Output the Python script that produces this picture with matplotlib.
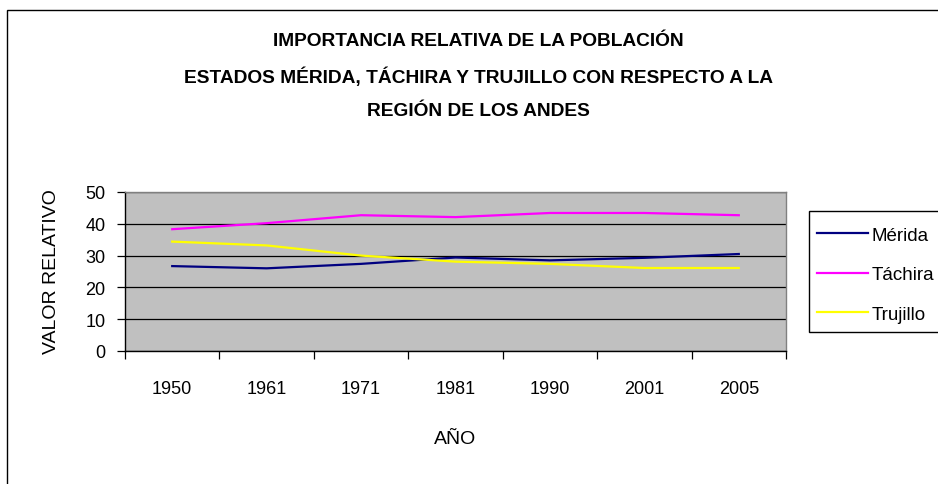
import matplotlib
matplotlib.use("Agg")
import matplotlib.pyplot as plt
from matplotlib.patches import Rectangle

years = ["1950", "1961", "1971", "1981", "1990", "2001", "2005"]
merida = [26.7, 26.0, 27.4, 29.4, 28.5, 29.3, 30.5]
tachira = [38.3, 40.2, 42.7, 42.1, 43.4, 43.4, 42.7]
trujillo = [34.4, 33.2, 30.0, 28.1, 27.4, 26.1, 26.1]

title = ["IMPORTANCIA RELATIVA DE LA POBLACIÓN",
         "ESTADOS MÉRIDA, TÁCHIRA Y TRUJILLO CON RESPECTO A LA",
         "REGIÓN DE LOS ANDES"]

plt.rcParams["font.family"] = ["Liberation Sans", "DejaVu Sans"]

W, H = 938, 485
fig = plt.figure(figsize=(W / 100, H / 100), dpi=100)

def fx(px):
    return px / W

def fy(py):
    return 1 - py / H

# marco exterior del grafico (recortado a la derecha y abajo)
fig.patches.append(Rectangle((fx(7), -0.1), 1.2, fy(11) + 0.1, transform=fig.transFigure,
                             fill=False, edgecolor="black", linewidth=1.0))

ax = fig.add_axes([fx(125), fy(352), fx(786) - fx(125), fy(193) - fy(352)])
ax.set_facecolor("#c0c0c0")

x = list(range(len(years)))
ax.plot(x, merida, color="#000080", linewidth=1.6, label="Mérida")
ax.plot(x, tachira, color="#ff00ff", linewidth=1.6, label="Táchira")
ax.plot(x, trujillo, color="#ffff00", linewidth=1.6, label="Trujillo")

ax.set_xlim(-0.5, len(years) - 0.5)
ax.set_ylim(0, 50)
ax.set_yticks([0, 10, 20, 30, 40, 50])
ax.yaxis.grid(True, color="black", linewidth=0.9)
ax.set_axisbelow(True)

# marcas entre categorias, etiquetas centradas
ax.set_xticks([i - 0.5 for i in range(len(years) + 1)])
ax.set_xticklabels([])
ax.set_xticks(x, minor=True)
ax.set_xticklabels(years, minor=True)
ax.tick_params(axis="x", which="major", length=6, width=0.9, direction="out")
ax.tick_params(axis="x", which="minor", length=0, pad=21, labelsize=13)
ax.tick_params(axis="y", length=6, width=0.9, pad=8, labelsize=13)

for s in ["left", "bottom"]:
    ax.spines[s].set_color("black")
    ax.spines[s].set_linewidth(1.0)
for s in ["top", "right"]:
    ax.spines[s].set_color("#808080")
    ax.spines[s].set_linewidth(1.0)

fig.text(fx(51), fy(272), "VALOR RELATIVO", rotation=90, ha="center", va="center", fontsize=14)
fig.text(fx(455), fy(440), "AÑO", ha="center", va="center", fontsize=14)

# titulo centrado sobre todo el area del grafico
for i, line in enumerate(title):
    fig.text(fx(478), fy([42, 77, 112][i]), line, ha="center", va="center",
             fontsize=13.8, fontweight="bold")

# caja de leyenda (se sale por la derecha)
fig.patches.append(Rectangle((fx(809), fy(333)), 0.5, fy(212) - fy(333), transform=fig.transFigure,
                             facecolor="white", edgecolor="black", linewidth=1.0))
fig.legend(loc="upper left", bbox_to_anchor=(fx(817), fy(227.5)), frameon=False, fontsize=13.5,
           handlelength=2.72, handletextpad=0.2, borderpad=0, borderaxespad=0, labelspacing=1.2)

fig.savefig("out.png", dpi=100)
